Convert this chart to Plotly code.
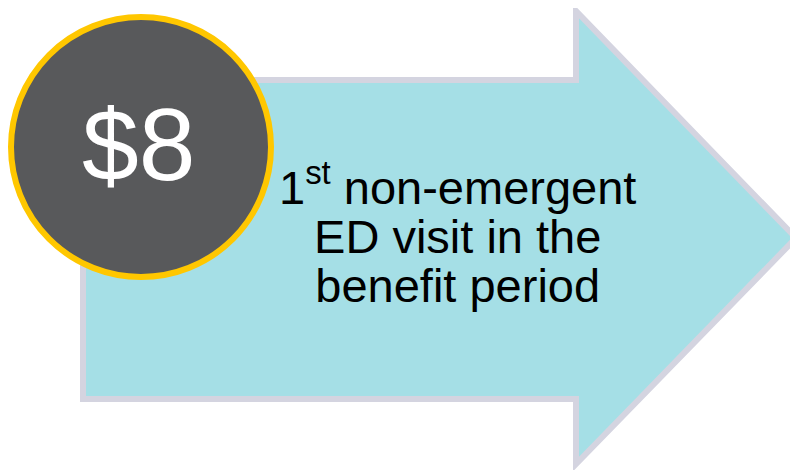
import plotly.graph_objects as go

# content
price_label = "$8"
desc_lines = ["1<sup>st</sup> non-emergent", "ED visit in the", "benefit period"]

# style / geometry (in reference-pixel coordinates)
W, H = 798, 470
OFF = 8  # page body margin offset of the rendered figure
FILL_ARROW = "#A5DFE6"
EDGE_ARROW = "#D4D4E0"
FILL_CIRCLE = "#58595B"
EDGE_CIRCLE = "#FFC700"
FONT = "Liberation Sans, Arial, sans-serif"
GLYPH_SIZE = 47
LINE_PITCH = 49  # px between baselines

body_l, body_t, body_b = 83, 80, 399
notch_x, head_t, head_b = 576, 11, 464
tip_x, tip_y = 796, 238

arrow_path = (f"M {body_l},{body_t} L {notch_x},{body_t} L {notch_x},{head_t} "
              f"L {tip_x},{tip_y} L {notch_x},{head_b} L {notch_x},{body_b} "
              f"L {body_l},{body_b} Z")

cx, cy, r = 141, 147, 130

fig = go.Figure()
fig.add_shape(type="path", path=arrow_path, fillcolor=FILL_ARROW,
              line=dict(color=EDGE_ARROW, width=6), layer="below")
fig.add_shape(type="circle", x0=cx - r, x1=cx + r, y0=cy - r, y1=cy + r,
              fillcolor=FILL_CIRCLE, line=dict(color=EDGE_CIRCLE, width=6))

fig.add_annotation(x=138, y=145, text=price_label, showarrow=False,
                   font=dict(family=FONT, size=102, color="white"),
                   xanchor="center", yanchor="middle")

desc_text = "<br>".join(
    f"<span style='font-size:{GLYPH_SIZE}px'>{t}</span>" for t in desc_lines)
fig.add_annotation(x=457, y=233, text=desc_text, showarrow=False,
                   font=dict(family=FONT, size=LINE_PITCH / 1.3, color="black"),
                   xanchor="center", yanchor="middle", align="center")

fig.update_xaxes(range=[OFF, W], visible=False, fixedrange=True)
fig.update_yaxes(range=[H, OFF], visible=False, fixedrange=True)
fig.update_layout(width=W - OFF, height=H - OFF, margin=dict(l=0, r=0, t=0, b=0),
                  paper_bgcolor="white", plot_bgcolor="white", showlegend=False)
fig.write_html("out.html")
